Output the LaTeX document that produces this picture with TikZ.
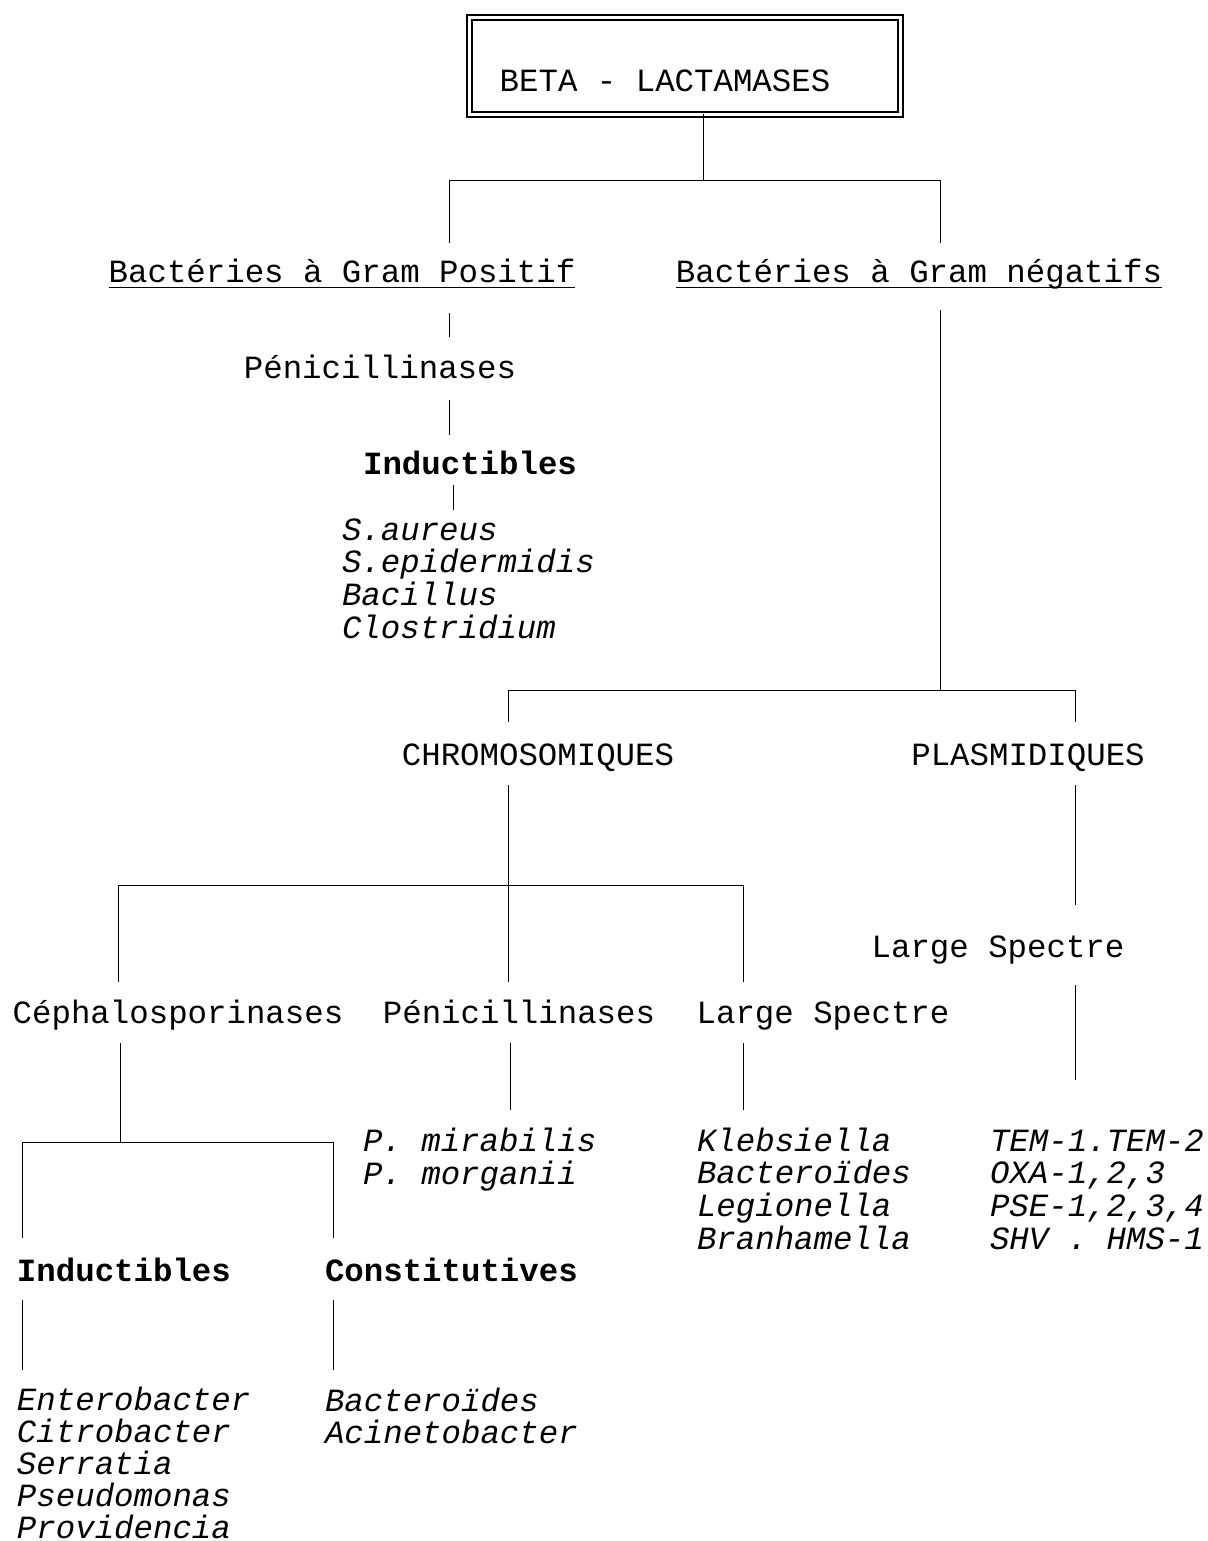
\documentclass[tikz,border=0pt]{standalone}
\usepackage{fontspec}
\setmainfont{Liberation Mono}
\usepackage{tikz}

\begin{document}
\begin{tikzpicture}[x=0.5pt, y=-0.5pt]
\tikzset{ inner sep=0pt, outer sep=0pt, line width=0.8pt,
  txt/.style={font=\fontsize{16.2}{16.3}\selectfont, anchor=base},
  bld/.style={txt, font=\fontsize{16.2}{16.3}\selectfont\bfseries},
  spc/.style={txt, font=\fontsize{16.2}{16.3}\selectfont\itshape, align=left, anchor=base west},
  spcb/.style={spc, font=\fontsize{16.2}{16}\selectfont\itshape},
}

\useasboundingbox (0,0) rectangle (1207,1541);

%\draw [lightgray, dashed](0,0) grid (1200,1540);

% top box
\node [draw, double, double distance=1.7pt, minimum width=215.5pt, minimum height=48.25pt] (root) at (685,66) {};
\node [txt] (title) at (665,91) {BETA - LACTAMASES};

% labels
\node [txt] (gpos) at (342,282) {Bactéries à Gram Positif};
\node [txt] (gneg) at (919,282) {Bactéries à Gram négatifs};
\node [txt] (peni1) at (380,378) {Pénicillinases};
\node [bld] (ind1) at (470,474) {Inductibles};
\node [txt] (chrom) at (538,765) {CHROMOSOMIQUES};
\node [txt] (plasm) at (1028,765) {PLASMIDIQUES};
\node [txt] (large2) at (998,957) {Large Spectre};
\node [txt] (ceph) at (178,1023) {Céphalosporinases};
\node [txt] (peni2) at (519,1023) {Pénicillinases};
\node [txt] (large1) at (823,1023) {Large Spectre};
\node [bld, anchor=base west] (ind2) at (17,1281) {Inductibles};
\node [bld, anchor=base west] (cons) at (325,1281) {Constitutives};

% species (base = last line)
\node [spc] (sp1) at (342,638) {S.aureus\\S.epidermidis\\Bacillus\\Clostridium};
\node [spc] (sp2) at (363,1184) {P. mirabilis\\P. morganii};
\node [spc] (sp3) at (697,1249) {Klebsiella\\Bacteroïdes\\Legionella\\Branhamella};
\node [spc] (sp4) at (990,1249) {TEM-1.TEM-2\\OXA-1,2,3\\PSE-1,2,3,4\\SHV . HMS-1};
\node [spcb] (sp5) at (17,1538) {Enterobacter\\Citrobacter\\Serratia\\Pseudomonas\\Providencia};
\node [spcb] (sp6) at (325,1443) {Bacteroïdes\\Acinetobacter};

% underlines
\draw ([yshift=-2.5pt]gpos.base west) -- ([yshift=-2.5pt]gpos.base east);
\draw ([yshift=-2.5pt]gneg.base west) -- ([yshift=-2.5pt]gneg.base east);

% line ends
\coordinate (b0) at (703,180);
\coordinate (a1) at (449,243);
\coordinate (a2) at (940,243);
\coordinate (c1) at (449,313);
\coordinate (c2) at (449,337);
\coordinate (c3) at (449,400);
\coordinate (c4) at (449,435);
\coordinate (c5) at (453,485);
\coordinate (c6) at (453,510);
\coordinate (d1) at (940,310);
\coordinate (d2) at (940,690);
\coordinate (e1) at (508,722);
\coordinate (e2) at (1075,722);
\coordinate (f1) at (508,785);
\coordinate (f2) at (508,982);
\coordinate (f3) at (508,885);
\coordinate (g1) at (118,982);
\coordinate (g2) at (743,982);
\coordinate (h1) at (1075,785);
\coordinate (h2) at (1075,905);
\coordinate (h3) at (1075,985);
\coordinate (h4) at (1075,1080);
\coordinate (k1) at (120,1043);
\coordinate (k2) at (120,1142);
\coordinate (m1) at (22,1238);
\coordinate (m2) at (333,1238);
\coordinate (n1) at (22,1300);
\coordinate (n2) at (22,1370);
\coordinate (n3) at (333,1300);
\coordinate (n4) at (333,1370);
\coordinate (p1) at (510,1043);
\coordinate (p2) at (510,1110);
\coordinate (q1) at (743,1043);
\coordinate (q2) at (743,1110);

% tree
\draw (root.south -| b0) -- (b0);
\draw (a1) -- (a1 |- b0) -- (a2 |- b0) -- (a2);
\draw (c1) -- (c2);
\draw (c3) -- (c4);
\draw (c5) -- (c6);
\draw (d1) -- (d2);
\draw (e1) -- (e1 |- d2) -- (e2 |- d2) -- (e2);
\draw (f1) -- (f2);
\draw (g1) -- (g1 |- f3) -- (g2 |- f3) -- (g2);
\draw (h1) -- (h2);
\draw (h3) -- (h4);
\draw (k1) -- (k2);
\draw (m1) -- (m1 |- k2) -- (m2 |- k2) -- (m2);
\draw (n1) -- (n2);
\draw (n3) -- (n4);
\draw (p1) -- (p2);
\draw (q1) -- (q2);

\end{tikzpicture}
\end{document}
